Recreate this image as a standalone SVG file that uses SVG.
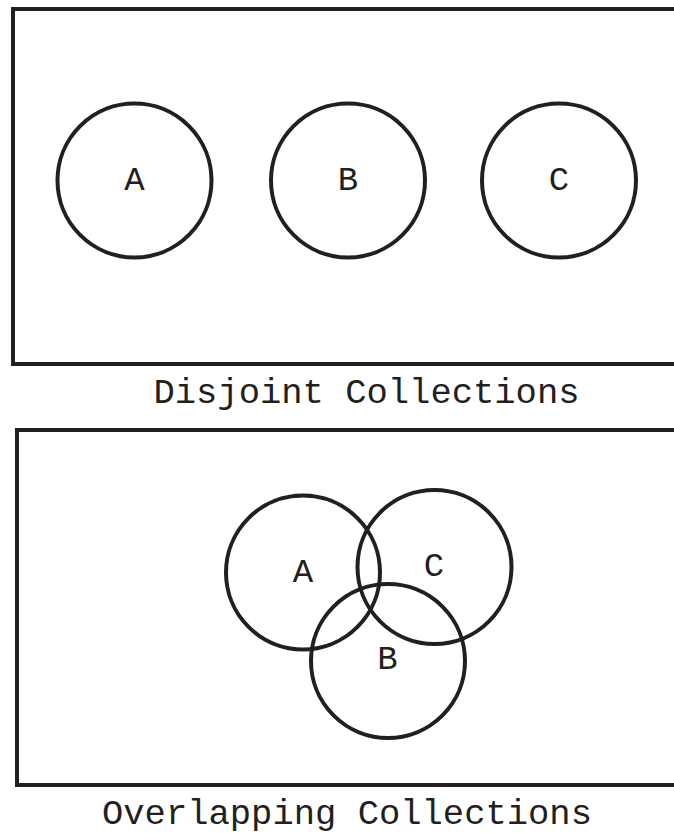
<svg xmlns="http://www.w3.org/2000/svg" width="674" height="834" viewBox="0 0 674 834">
  <style>
    .frame { fill: none; stroke: #231f20; stroke-width: 4; }
    .set { fill: none; stroke: #231f20; stroke-width: 4; }
    .label { font-family: "Courier New", "Nimbus Mono PS", "FreeMono", "Liberation Mono", monospace; font-size: 34px; fill: #231f20; text-anchor: middle; }
    .caption { font-family: "Courier New", "Nimbus Mono PS", "FreeMono", "Liberation Mono", monospace; font-size: 35.5px; fill: #231f20; text-anchor: middle; }
  </style>
  <rect width="674" height="834" fill="#ffffff"/>

  <!-- Disjoint collections panel -->
  <g id="panel-disjoint">
    <rect class="frame" x="13" y="9" width="700" height="355"/>
    <g id="disjoint-A">
      <circle class="set" cx="134.5" cy="180.5" r="77"/>
      <text class="label" x="134.5" y="190">A</text>
    </g>
    <g id="disjoint-B">
      <circle class="set" cx="348" cy="180.5" r="77"/>
      <text class="label" x="348" y="190">B</text>
    </g>
    <g id="disjoint-C">
      <circle class="set" cx="559" cy="180.5" r="77"/>
      <text class="label" x="559" y="190">C</text>
    </g>
    <text class="caption" x="366.5" y="403">Disjoint Collections</text>
  </g>

  <!-- Overlapping collections panel -->
  <g id="panel-overlapping">
    <rect class="frame" x="17" y="430" width="700" height="355"/>
    <g id="overlap-A">
      <circle class="set" cx="303" cy="572.5" r="77"/>
      <text class="label" x="303" y="582">A</text>
    </g>
    <g id="overlap-C">
      <circle class="set" cx="434.5" cy="567" r="77"/>
      <text class="label" x="434" y="576">C</text>
    </g>
    <g id="overlap-B">
      <circle class="set" cx="388" cy="661" r="77"/>
      <text class="label" x="387.5" y="669">B</text>
    </g>
    <text class="caption" x="347" y="824">Overlapping Collections</text>
  </g>

  <!-- no connectors in this figure -->
  <g id="connectors"/>
</svg>
